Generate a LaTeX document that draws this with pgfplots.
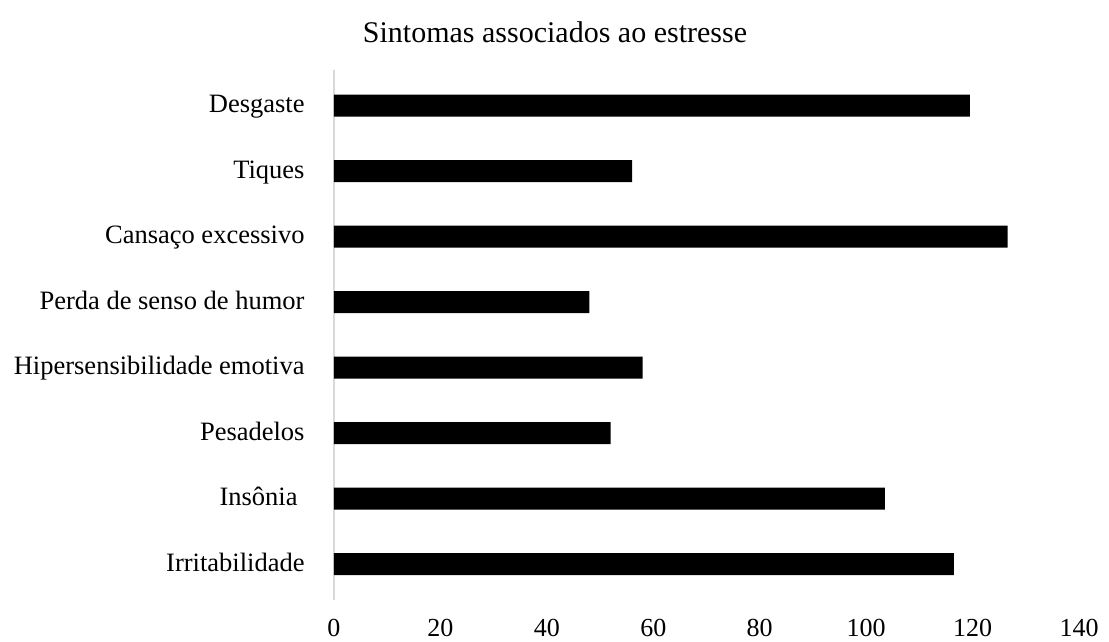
\documentclass[border=0pt]{standalone}
\usepackage{pgfplots}
\pgfplotsset{compat=1.18}
\usepackage{fontspec}
\setmainfont{Liberation Serif}
\begin{document}
\begin{tikzpicture}[x=1pt,y=1pt]
\path[use as bounding box] (0,0) rectangle (1109,642);
\node[font=\fontsize{30}{36}\selectfont] at (555,610) {Sintomas associados ao estresse};
\begin{axis}[
  at={(334pt,45pt)}, anchor=south west,
  scale only axis, width=745pt, height=524pt,
  xbar, bar width=22pt,
  xmin=0, xmax=140, ymin=-0.5, ymax=7.5,
  xtick={0,20,...,140},
  ytick={0,...,7},
  yticklabels={Irritabilidade,Insônia\kern7pt,Pesadelos,Hipersensibilidade emotiva,Perda de senso de humor,Cansaço excessivo,Tiques,Desgaste},
  axis line style={draw=none},
  tick style={draw=none},
  /pgf/number format/assume math mode=true,
  ticklabel style={inner sep=0pt},
  yticklabel style={font=\fontsize{26.5}{32}\selectfont, anchor=east, xshift=-25pt, text height=19pt, text depth=5pt},
  xticklabel style={font=\fontsize{26}{31}\selectfont, anchor=center, yshift=-31pt},
  clip=false,
]
\draw[black!15, line width=1.5pt] (axis cs:0,-0.55) -- (axis cs:0,7.55);
\addplot[fill=black, draw=none] coordinates {
  (116.5,0) (103.5,1) (52,2) (58,3) (48,4) (126.6,5) (56,6) (119.5,7)
};
\end{axis}
\end{tikzpicture}
\end{document}
